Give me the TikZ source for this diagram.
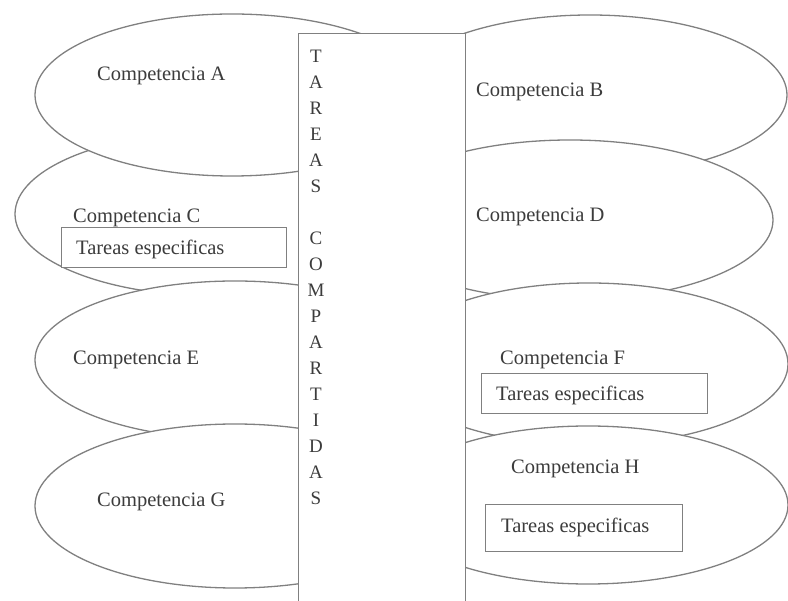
\documentclass[tikz,border=0pt]{standalone}
\usepackage{fontspec}
\setmainfont{Liberation Serif}
\usetikzlibrary{shapes.geometric}
\definecolor{linec}{HTML}{808080}
\definecolor{textc}{HTML}{3C3C3C}
\tikzset{
  comp/.style={ellipse, draw=linec, line width=1.3pt, fill=white, inner sep=0pt},
  lab/.style={anchor=west, inner sep=0pt, text=textc, font=\fontsize{20.5}{24}\selectfont, text height=14pt, text depth=4pt, yshift=-2pt},
  tbox/.style={draw=linec, line width=1.3pt, fill=white, anchor=north west, inner sep=0pt},
  shared/.style={draw=linec, line width=1.3pt, fill=white, anchor=north west, inner sep=0pt},
  lett/.style={inner sep=0pt, text=textc, font=\fontsize{19}{22}\selectfont}
}
\begin{document}
\begin{tikzpicture}[x=1pt,y=-1pt]
\useasboundingbox (0,0) rectangle (788,601);
\clip (0,0) rectangle (788,601);
% left column
\node[comp, minimum width=400pt, minimum height=164pt] (eC) at (215,214) {};
\node[comp, minimum width=400pt, minimum height=158pt] (eE) at (235,360) {};
\node[comp, minimum width=394pt, minimum height=162pt] (eA) at (232,95) {};
\node[comp, minimum width=400pt, minimum height=164pt] (eG) at (235,506) {};
% right column
\node[comp, minimum width=394pt, minimum height=160pt] (eB) at (590,95) {};
\node[comp, minimum width=406pt, minimum height=160pt] (eD) at (570,220) {};
\node[comp, minimum width=398pt, minimum height=162pt] (eF) at (589,364) {};
\node[comp, minimum width=400pt, minimum height=158pt] (eH) at (588,505) {};
% central column
\node[shared, minimum width=167pt, minimum height=600pt] (mid) at (298,33) {};
\foreach \ch [count=\i] in {T,A,R,E,A,S,{},C,O,M,P,A,R,T,I,D,A,S}
  \node[lett] (L\i) at (316,{56+26*(\i-1)}) {\ch};
% labels
\node[lab] (tA) at (97,74) {Competencia A};
\node[lab] (tB) at (476,90) {Competencia B};
\node[lab] (tC) at (73,216) {Competencia C};
\node[lab] (tD) at (476,215) {Competencia D};
\node[lab] (tE) at (73,358) {Competencia E};
\node[lab] (tF) at (500,358) {Competencia F};
\node[lab] (tG) at (97,500) {Competencia G};
\node[lab] (tH) at (511,467) {Competencia H};
% specific task boxes
\node[tbox, minimum width=225pt, minimum height=40pt] (bC) at (61,227) {};
\node[lab] (sC) at (76,248) {Tareas especificas};
\node[tbox, minimum width=226pt, minimum height=40pt] (bF) at (481,373) {};
\node[lab] (sF) at (496,394) {Tareas especificas};
\node[tbox, minimum width=197pt, minimum height=47pt] (bH) at (485,504) {};
\node[lab] (sH) at (501,526) {Tareas especificas};
\end{tikzpicture}
\end{document}
